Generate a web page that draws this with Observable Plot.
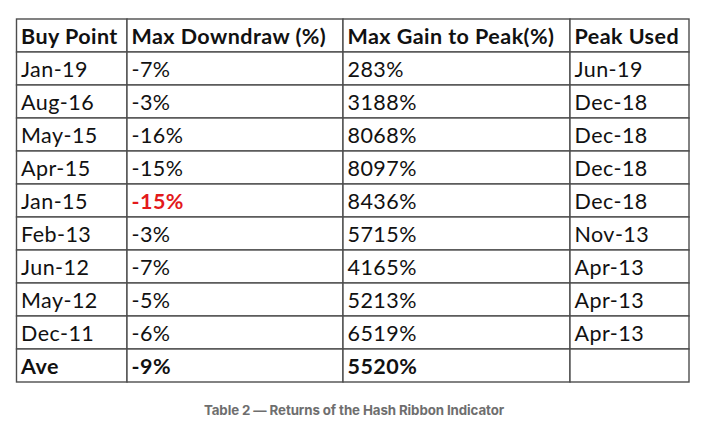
<!DOCTYPE html>
<html><head><meta charset="utf-8">
<script src="https://cdn.jsdelivr.net/npm/d3@7"></script>
<script src="https://cdn.jsdelivr.net/npm/@observablehq/plot@0.6"></script>
<style>
body{margin:0;background:#fff;}
#cap{font-family:Inter,Roboto,sans-serif;font-weight:700;font-size:13.3px;line-height:16px;color:#6e6e6e;text-align:center;width:708px;margin-top:7px;letter-spacing:-0.1px;}
</style>
</head><body><div id="chart"></div><div id="cap">Table 2 — Returns of the Hash Ribbon Indicator</div>
<script>
const headers = ["Buy Point", "Max Downdraw (%)", "Max Gain to Peak(%)", "Peak Used"];
const buyPoints = ["Jan-19", "Aug-16", "May-15", "Apr-15", "Jan-15", "Feb-13", "Jun-12", "May-12", "Dec-11"];
const maxDowndraw = [-7, -3, -16, -15, -15, -3, -7, -5, -6];
const maxGain = [283, 3188, 8068, 8097, 8436, 5715, 4165, 5213, 6519];
const peakUsed = ["Jun-19", "Dec-18", "Dec-18", "Dec-18", "Dec-18", "Nov-13", "Apr-13", "Apr-13", "Apr-13"];
const averageLabel = "Ave";
const averageDowndraw = -9;
const averageGain = 5520;
const highlightedBuyPoint = "Jan-15";

// layout
const colWidths = [110.5, 216, 227, 119];
const edges = Array.from(d3.cumsum([0, ...colWidths]));
const pad = 4;
const W = 714, H = 395;

const pct = v => `${v}%`;
const cells = [];
headers.forEach((h, c) => cells.push({row: 0, col: c, text: h, bold: true, red: false}));
buyPoints.forEach((b, i) => {
  const r = i + 1;
  const vals = [b, pct(maxDowndraw[i]), pct(maxGain[i]), peakUsed[i]];
  vals.forEach((t, c) => cells.push({row: r, col: c, text: t, bold: c === 1 && b === highlightedBuyPoint, red: c === 1 && b === highlightedBuyPoint}));
});
const lastRow = buyPoints.length + 1;
[averageLabel, pct(averageDowndraw), pct(averageGain), ""].forEach((t, c) => cells.push({row: lastRow, col: c, text: t, bold: true, red: false}));

const rows = d3.range(lastRow + 1);
const font = "Lato, 'Open Sans', sans-serif";
const textOpts = {x: d => edges[d.col] + pad, y: "row", text: "text", textAnchor: "start", fontSize: 21.5, fontFamily: font, dy: 1.2};

const chart = Plot.plot({
  width: W, height: H,
  marginLeft: 16.5, marginRight: W - 16.5 - edges[4], marginTop: 16, marginBottom: H - 385,
  style: {letterSpacing: "0.45px", background: "white"},
  x: {domain: [0, edges[4]], axis: null},
  y: {type: "band", domain: rows, padding: 0, axis: null},
  marks: [
    Plot.rect(cells, {x1: d => edges[d.col], x2: d => edges[d.col + 1], y: "row", fill: "white", stroke: "#4d4d4d", strokeWidth: 1.4}),
    Plot.text(cells.filter(d => !d.bold), {...textOpts, fill: "#111"}),
    Plot.text(cells.filter(d => d.bold && !d.red), {...textOpts, fill: "#111", fontWeight: "bold"}),
    Plot.text(cells.filter(d => d.red), {...textOpts, fill: "#e3191b", fontWeight: "bold"})
  ]
});
document.getElementById("chart").appendChild(chart);
</script>
</body></html>
